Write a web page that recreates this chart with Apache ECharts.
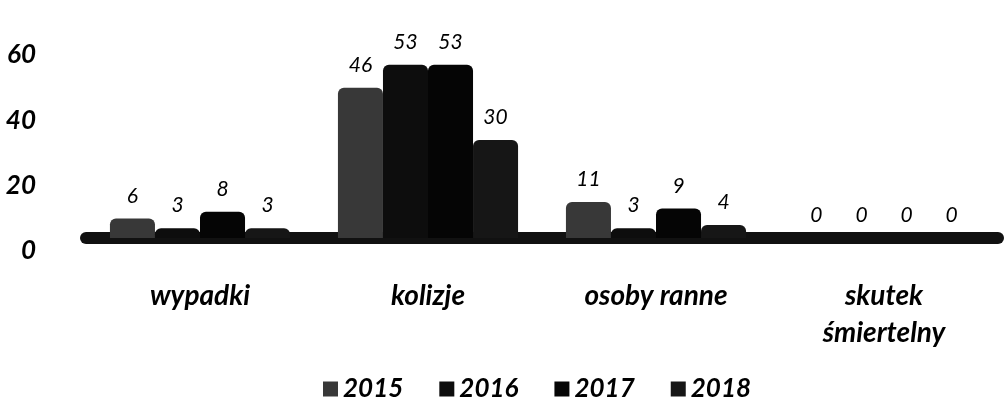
<!DOCTYPE html>
<html><head><meta charset="utf-8">
<script src="https://cdn.jsdelivr.net/npm/echarts@6/dist/echarts.min.js"></script>
<style>html,body{margin:0;padding:0;background:#fff}#c{width:1006px;height:411px}</style>
</head><body><div id="c"></div>
<script>
const categories = ['wypadki', 'kolizje', 'osoby ranne', 'skutek\nśmiertelny'];
const seriesNames = ['2015', '2016', '2017', '2018'];
const v2015 = [6, 46, 11, 0];
const v2016 = [3, 53, 3, 0];
const v2017 = [8, 53, 9, 0];
const v2018 = [3, 30, 4, 0];
const yTicks = [0, 20, 40, 60];

const colors = ['#383838', '#0d0d0d', '#050505', '#161616'];
const values = [v2015, v2016, v2017, v2018];
const font = 'Lato';

const chart = echarts.init(document.getElementById('c'));
chart.setOption({
  animation: false,
  backgroundColor: '#fff',
  textStyle: { fontFamily: font },
  grid: { left: 86, right: 8, top: 42, bottom: 173, containLabel: false },
  legend: {
    bottom: 4, left: 318,
    itemWidth: 15, itemHeight: 15, itemGap: 36,
    icon: 'rect',
    textStyle: { fontFamily: font, fontSize: 26, fontWeight: 'bold', fontStyle: 'italic', color: '#000' },
    data: seriesNames
  },
  xAxis: {
    type: 'category', data: categories,
    axisTick: { show: false },
    axisLine: { show: true, lineStyle: { color: '#111', width: 12 } },
    axisLabel: { margin: 39, fontFamily: font, fontSize: 28, fontWeight: 'bold', fontStyle: 'italic', color: '#000', lineHeight: 37 }
  },
  yAxis: {
    type: 'value', min: 0, max: 60, interval: 20,
    splitLine: { show: false },
    axisLine: { show: false }, axisTick: { show: false },
    axisLabel: {
      margin: 50, fontFamily: font, fontSize: 26, fontWeight: 'bold', fontStyle: 'italic', color: '#000',
      verticalAlign: 'top',
      formatter: v => yTicks.includes(v) ? String(v) : ''
    }
  },
  series: seriesNames.map((n, i) => ({
    name: n, type: 'bar', data: values[i],
    barGap: '0%', barCategoryGap: '21%',
    itemStyle: { color: colors[i], borderRadius: [6, 6, 0, 0] },
    label: { show: true, position: 'top', distance: 12, fontFamily: font, fontSize: 21, fontStyle: 'italic', color: '#000' }
  }))
});
</script></body></html>
